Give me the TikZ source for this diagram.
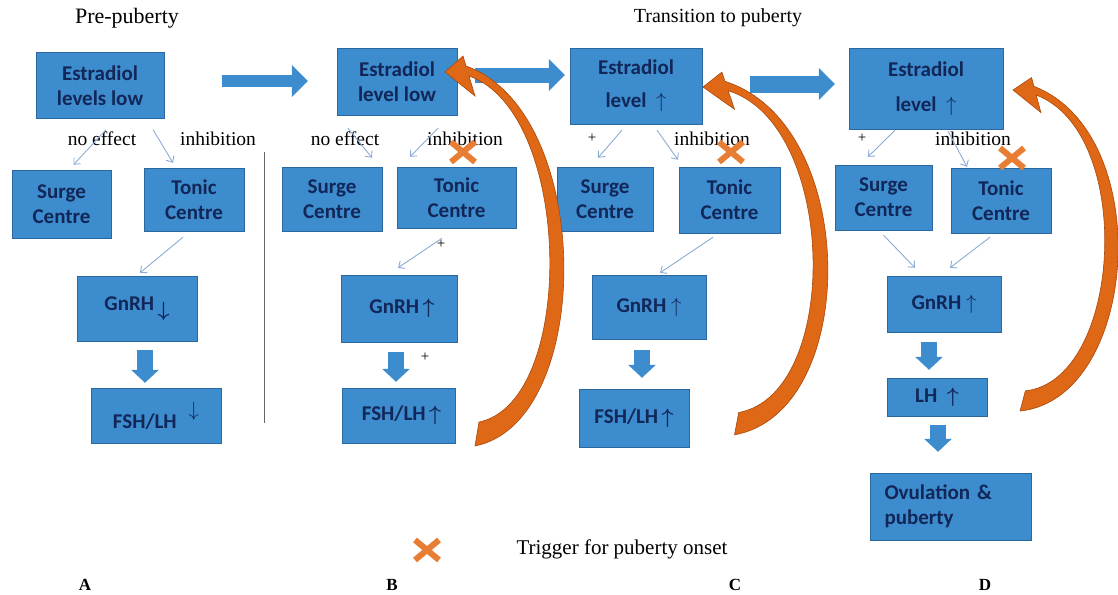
\documentclass[tikz,border=0pt]{standalone}
\usepackage{amsmath}
\usepackage{amssymb}
\usepackage{fontspec}
\usepackage{tikz}
\usepackage{xcolor}
\usetikzlibrary{arrows}
\usetikzlibrary{arrows.meta}
\usetikzlibrary{calc}
\usetikzlibrary{shapes.misc}

\setmainfont{Liberation Serif}
\newfontfamily\boxfont{Carlito}

\definecolor{boxblue}{RGB}{60,140,206}
\definecolor{boxedge}{RGB}{44,104,160}
\definecolor{boxtext}{RGB}{18,38,88}
\definecolor{thinarrow}{RGB}{140,172,212}
\definecolor{loopfill}{RGB}{222,104,22}
\definecolor{loopedge}{RGB}{170,72,12}
\definecolor{crossorange}{RGB}{232,126,52}

\begin{document}
\begin{tikzpicture}[x=1pt,y=-1pt]
				
				\useasboundingbox (0,0) rectangle (1118,594);
				
				\tikzstyle{hormone}=[draw=boxedge, fill=boxblue, text=boxtext, align=center, inner sep=0pt,
				font=\boxfont\bfseries\fontsize{21}{25}\selectfont]
				\tikzstyle{lbl}=[inner sep=0pt, font=\fontsize{19.5}{22}\selectfont]
				\tikzstyle{plus}=[inner sep=0pt, font=\fontsize{15}{15}\selectfont]
				\tikzstyle{thin arrow}=[draw=thinarrow, line width=0.9pt, -{Straight Barb[length=5pt,width=9pt]}]
				\tikzstyle{block arrow}=[draw=boxblue, line width=14pt, -{Triangle[length=16pt,width=31pt]}]
				\tikzstyle{down arrow}=[draw=boxblue, line width=16pt, -{Triangle[length=13pt,width=27pt]}]
				\tikzstyle{trigger}=[cross out, draw=crossorange, line width=6pt, minimum width=18pt, minimum height=14pt, inner sep=0pt]
				\tikzstyle{loop}=[fill=loopfill, draw=loopedge, line width=0.6pt]
				
				% A : pre-puberty
				\node[lbl, font=\fontsize{22}{24}\selectfont] (titleA) at (127,18) {Pre-puberty};
				\node[hormone, minimum width=128pt, minimum height=66pt] (estA) at (100,85.5) {Estradiol\\levels low};
				\node[hormone, minimum width=99pt, minimum height=68pt] (surgeA) at (61.5,204) {Surge\\Centre};
				\node[hormone, minimum width=100pt, minimum height=63pt] (tonicA) at (194,199.5) {Tonic\\Centre};
				\node[hormone, minimum width=120pt, minimum height=65pt] (gnrhA) at (137,308.5) {\raisebox{6pt}{GnRH}\,$\boldsymbol{\downarrow}$};
				\node[hormone, minimum width=130pt, minimum height=55pt] (fshA) at (156,415.5) {FSH/LH\hspace{12pt}\raisebox{12pt}{$\downarrow$}};
				\node[lbl] (noeffA) at (102,139) {no effect};
				\node[lbl] (inhA) at (218,139) {inhibition};
				
				\draw[thin arrow] ($(estA.south)+(6,11)$) -- ($(surgeA.north)+(12,-5)$);
				\draw[thin arrow] ($(estA.south)+(53,11)$) -- ($(tonicA.north)+(-21,-5)$);
				\draw[thin arrow] ($(tonicA.south)+(-11,6)$) -- ($(gnrhA.north)+(3,-3)$);
				\draw[down arrow] ($(gnrhA.south)+(8,9)$) -- ($(fshA.north)+(-11,-5)$);
				
				\draw[gray!80!black, line width=1pt] (264,152) -- (264,423);
				
				% B
				\node[hormone, minimum width=120pt, minimum height=67pt] (estB) at (397,81.5) {Estradiol\\level low};
				\node[hormone, minimum width=100pt, minimum height=64pt] (surgeB) at (332,199) {Surge\\Centre};
				\node[hormone, minimum width=119pt, minimum height=61pt] (tonicB) at (456.5,197.5) {Tonic\\Centre};
				\node[hormone, minimum width=116pt, minimum height=67pt] (gnrhB) at (399,308.5) {\hspace{6pt}GnRH\,$\boldsymbol{\uparrow}$};
				\node[hormone, minimum width=113pt, minimum height=55pt] (fshB) at (398.5,415.5) {\hspace{6pt}FSH/LH\,$\boldsymbol{\uparrow}$};
				\node[lbl] (noeffB) at (345,139) {no effect};
				\node[lbl] (inhB) at (465,139) {inhibition};
				\node[trigger] (xB) at (463,152) {};
				\node[plus] (plusB1) at (441,244) {+};
				\node[plus] (plusB2) at (425,357) {+};
				
				\draw[block arrow, line width=12pt] ($(estA.east)+(58,-4.5)$) -- ($(estB.west)+(-29,-0.5)$);
				\draw[thin arrow] ($(estB.south)+(-49,13)$) -- ($(surgeB.north)+(40,-9)$);
				\draw[thin arrow] ($(estB.south)+(41,13)$) -- ($(tonicB.north)+(-46.5,-10)$);
				\draw[thin arrow] ($(tonicB.south)+(-14.5,10)$) -- ($(gnrhB.north)+(-1,-7)$);
				\draw[down arrow] ($(gnrhB.south)+(-3,10)$) -- ($(fshB.north)+(-2.5,-6)$);
				
				% C : transition to puberty
				\node[lbl, font=\fontsize{20}{24}\selectfont] (titleC) at (718,18) {Transition to puberty};
				\node[hormone, minimum width=132pt, minimum height=76pt, font=\boxfont\bfseries\fontsize{21}{33}\selectfont] (estC) at (636,86) {Estradiol\\level\ \ $\uparrow$};
				\node[hormone, minimum width=96pt, minimum height=64pt] (surgeC) at (605,199) {Surge\\Centre};
				\node[hormone, minimum width=101pt, minimum height=66pt] (tonicC) at (729.5,200) {Tonic\\Centre};
				\node[hormone, minimum width=114pt, minimum height=64pt] (gnrhC) at (649,307) {GnRH\ $\uparrow$};
				\node[hormone, minimum width=110pt, minimum height=58pt] (fshC) at (634,418) {FSH/LH\,$\boldsymbol{\uparrow}$};
				\node[plus] (plusC) at (592,138) {+};
				\node[lbl] (inhC) at (712,139) {inhibition};
				\node[trigger] (xC) at (731,152) {};
				
				\draw[block arrow, line width=15pt] ($(estB.east)+(18,-6.5)$) -- ($(estC.west)+(-5,-11)$);
				\draw[thin arrow] ($(estC.south)+(-14,6)$) -- ($(surgeC.north)+(-7,-9)$);
				\draw[thin arrow] ($(estC.south)+(21,6)$) -- ($(tonicC.north)+(-51.5,-7)$);
				\draw[thin arrow] ($(tonicC.south)+(-16.5,4)$) -- ($(gnrhC.north)+(11,-2)$);
				\draw[down arrow] ($(gnrhC.south)+(-7,11)$) -- ($(fshC.north)+(8,-11)$);
				
				% D
				\node[hormone, minimum width=154pt, minimum height=81pt, font=\boxfont\bfseries\fontsize{21}{35}\selectfont] (estD) at (926,88.5) {Estradiol\\level\ \ $\uparrow$};
				\node[hormone, minimum width=97pt, minimum height=65pt] (surgeD) at (883.5,197.5) {Surge\\Centre};
				\node[hormone, minimum width=100pt, minimum height=65pt] (tonicD) at (1001,200.5) {Tonic\\Centre};
				\node[hormone, minimum width=114pt, minimum height=56pt] (gnrhD) at (944,304) {GnRH\ $\uparrow$};
				\node[hormone, minimum width=100pt, minimum height=38pt] (lhD) at (937,397) {LH\ \ $\boldsymbol{\uparrow}$};
				\node[hormone, minimum width=161pt, minimum height=67pt, text width=132pt, align=left] (ovD) at (950.5,506.5) {Ovulation \&\\puberty};
				\node[plus] (plusD) at (862,138) {+};
				\node[lbl] (inhD) at (973,139) {inhibition};
				\node[trigger] (xD) at (1012,158) {};
				
				\draw[block arrow, line width=17pt] ($(estC.east)+(48,-2)$) -- ($(estD.west)+(-14,-4.5)$);
				\draw[thin arrow] ($(estD.south)+(-31,1)$) -- ($(surgeD.north)+(-15.5,-8)$);
				\draw[thin arrow] ($(estD.south)+(22,2)$) -- ($(tonicD.north)+(-34,-1)$);
				\draw[thin arrow] ($(surgeD.south)+(0,5)$) -- ($(gnrhD.north)+(-29,-8)$);
				\draw[thin arrow] ($(tonicD.south)+(-11,4)$) -- ($(gnrhD.north)+(6,-8)$);
				\draw[down arrow] ($(gnrhD.south)+(-15,10)$) -- ($(lhD.north)+(-8,-8)$);
				\draw[down arrow] ($(lhD.south)+(1,9)$) -- ($(ovD.north)+(-12.5,-21)$);
				
				% feedback loops
				\begin{scope}[shift={(445,72)}]
					\path[loop] (0,0) -- (18,-16) -- (21,-6) .. controls (150,40) and (150,350) .. (30,374)
					-- (34,350) .. controls (132,330) and (128,40) .. (24,4) -- (30,24) -- cycle;
				\end{scope}
				\begin{scope}[shift={(703,87)}, xscale=1.05, yscale=.93]
					\path[loop] (0,0) -- (18,-16) -- (21,-6) .. controls (150,40) and (150,350) .. (30,374)
					-- (34,350) .. controls (132,330) and (128,40) .. (24,4) -- (30,24) -- cycle;
				\end{scope}
				\begin{scope}[shift={(1013,90)}, rotate=-4, xscale=.98, yscale=.855]
					\path[loop] (0,0) -- (18,-16) -- (21,-6) .. controls (150,40) and (150,350) .. (30,374)
					-- (34,350) .. controls (132,330) and (128,40) .. (24,4) -- (30,24) -- cycle;
				\end{scope}
				
				% key and panel letters
				\node[trigger] (keyX) at (427,550) {};
				\node[lbl, font=\fontsize{21}{24}\selectfont] (keyText) at (622,549) {Trigger for puberty onset};
				
				\tikzstyle{panel}=[inner sep=0pt, font=\bfseries\fontsize{17}{17}\selectfont]
				\node[panel] (panelA) at (85,585) {A};
				\node[panel] (panelB) at (392,585) {B};
				\node[panel] (panelC) at (735,585) {C};
				\node[panel] (panelD) at (985,585) {D};
			\end{tikzpicture}
\end{document}
